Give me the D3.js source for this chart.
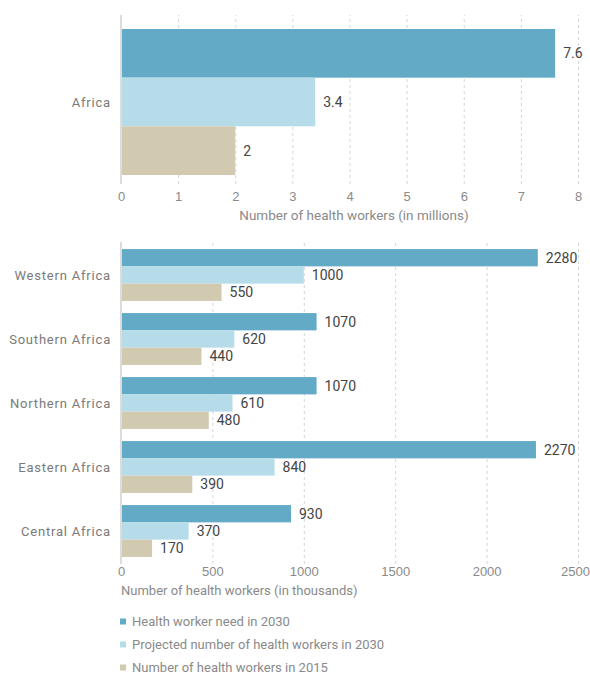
<!DOCTYPE html>
<html>
<head>
<meta charset="utf-8">
<script src="https://cdn.jsdelivr.net/npm/d3@7"></script>
<style>
  html, body { margin: 0; padding: 0; background: #fff; }
  svg { display: block; font-family: Roboto, "Noto Sans", Arial, sans-serif; }
  .cat { fill: #7a7a7a; font-size: 13px; letter-spacing: 0.8px; }
  .tick text { fill: #8a8a8a; font-size: 13px; }
  .val { fill: #444; font-size: 14px; }
  .title { fill: #8a8a8a; font-size: 13px; }
  .legend text { fill: #8a8a8a; font-size: 13px; }
</style>
</head>
<body>
<svg id="chart" width="590" height="675"></svg>
<script>
// Series shared by both panels
const seriesNames = [
  "Health worker need in 2030",
  "Projected number of health workers in 2030",
  "Number of health workers in 2015"
];
const seriesColors = ["#63aac7", "#b6dcea", "#d2c9b1"];

// Continent total (millions)
const topCategories = ["Africa"];
const topNeed2030 = [7.6];
const topProjected2030 = [3.4];
const topWorkers2015 = [2];
const topTicks = [0, 1, 2, 3, 4, 5, 6, 7, 8];

// Regions (thousands)
const regions = ["Western Africa", "Southern Africa", "Northern Africa", "Eastern Africa", "Central Africa"];
const regionNeed2030 = [2280, 1070, 1070, 2270, 930];
const regionProjected2030 = [1000, 620, 610, 840, 370];
const regionWorkers2015 = [550, 440, 480, 390, 170];
const bottomTicks = [0, 500, 1000, 1500, 2000, 2500];

const svg = d3.select("#chart");

function panel(cfg) {
  const g = svg.append("g");
  const x = d3.scaleLinear().domain(cfg.xDomain).range([121, 578]);
  const y = d3.scaleBand().domain(cfg.categories)
    .range(cfg.bandRange).paddingInner(cfg.padIn).paddingOuter(cfg.padOut);
  const ys = d3.scaleBand().domain(seriesNames).range([0, y.bandwidth()]);

  // dashed gridlines
  const grid = g.append("g")
    .attr("transform", `translate(0,${cfg.plotBottom})`)
    .call(d3.axisBottom(x).tickValues(cfg.ticks).tickFormat("")
      .tickSizeInner(-(cfg.plotBottom - cfg.plotTop)).tickSizeOuter(0));
  grid.select(".domain").remove();
  grid.selectAll(".tick line")
    .attr("stroke", "#d6d6d6").attr("stroke-dasharray", "3,3").attr("stroke-width", 1);

  // tick labels
  const ax = g.append("g")
    .attr("transform", `translate(0,${cfg.plotBottom})`)
    .call(d3.axisBottom(x).tickValues(cfg.ticks).tickFormat(d3.format("")).tickSize(0).tickPadding(cfg.tickPad));
  ax.select(".domain").remove();
  ax.selectAll(".tick text").attr("font-family", null).attr("font-size", null)
    .attr("dx", (d, i, n) => i === n.length - 1 ? cfg.lastDx : 0);

  // bars
  cfg.categories.forEach((c, i) => {
    const vals = cfg.values.map(v => v[i]);
    const row = g.append("g").attr("transform", `translate(0,${y(c)})`);
    row.selectAll("rect").data(vals).join("rect")
      .attr("x", x(0))
      .attr("y", (d, k) => ys(seriesNames[k]))
      .attr("width", d => x(d) - x(0))
      .attr("height", ys.bandwidth())
      .attr("fill", (d, k) => seriesColors[k]);
    row.selectAll("text.val").data(vals).join("text")
      .attr("class", "val")
      .attr("x", d => x(d) + 8)
      .attr("y", (d, k) => ys(seriesNames[k]) + ys.bandwidth() / 2)
      .attr("dy", "0.36em")
      .text(d => d);
    g.append("text").attr("class", "cat")
      .attr("x", 111)
      .attr("y", y(c) + y.bandwidth() / 2)
      .attr("dy", "0.36em")
      .attr("text-anchor", "end")
      .text(c);
  });

  // zero axis line
  g.append("line")
    .attr("x1", x(0)).attr("x2", x(0))
    .attr("y1", cfg.plotTop).attr("y2", cfg.plotBottom)
    .attr("stroke", "#dcdcdc").attr("stroke-width", 2);

  g.append("text").attr("class", "title")
    .attr("x", cfg.titleX).attr("y", cfg.titleY)
    .attr("text-anchor", cfg.titleAnchor)
    .style("font-size", cfg.titleSize)
    .text(cfg.title);
}

panel({
  categories: topCategories,
  values: [topNeed2030, topProjected2030, topWorkers2015],
  xDomain: [0, 8], ticks: topTicks,
  bandRange: [29, 175], padIn: 0, padOut: 0,
  plotTop: 15, plotBottom: 184, tickPad: 8, lastDx: 0,
  title: "Number of health workers (in millions)",
  titleX: 354, titleY: 220, titleAnchor: "middle", titleSize: "13.5px"
});

panel({
  categories: regions,
  values: [regionNeed2030, regionProjected2030, regionWorkers2015],
  xDomain: [0, 2500], ticks: bottomTicks,
  bandRange: [243, 563], padIn: 0.19, padOut: 0.095,
  plotTop: 242, plotBottom: 564, tickPad: 3, lastDx: -3,
  title: "Number of health workers (in thousands)",
  titleX: 121, titleY: 595, titleAnchor: "start", titleSize: "13px"
});

// legend
const legend = svg.append("g").attr("class", "legend");
seriesNames.forEach((name, i) => {
  const cy = 621.5 + i * 23;
  legend.append("rect")
    .attr("x", 120).attr("y", cy - 3).attr("width", 6).attr("height", 6)
    .attr("fill", seriesColors[i]);
  legend.append("text")
    .attr("x", 132).attr("y", cy).attr("dy", "0.33em")
    .text(name);
});
</script>
</body>
</html>
